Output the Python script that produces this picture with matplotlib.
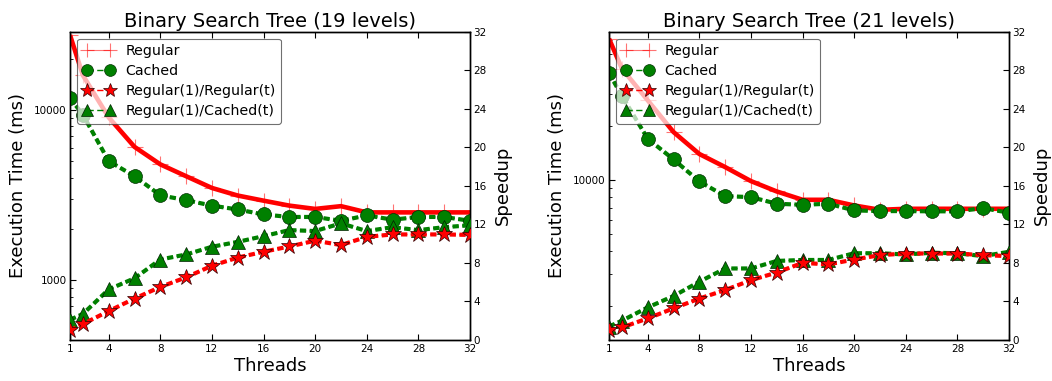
import matplotlib
matplotlib.use("Agg")
import matplotlib.pyplot as plt
from matplotlib.ticker import FixedLocator, FuncFormatter, LogLocator, NullFormatter

threads = [1, 2, 4, 6, 8, 10, 12, 14, 16, 18, 20, 22, 24, 26, 28, 30, 32]

# Binary search tree, 19 levels
regular_19 = [27600, 16000, 9050, 6070, 4790, 4080, 3480, 3140, 2930, 2740,
              2620, 2720, 2500, 2500, 2500, 2500, 2500]
cached_19 = [11780, 9380, 5010, 4080, 3150, 2950, 2740, 2600, 2430, 2350,
             2350, 2230, 2400, 2265, 2350, 2350, 2230]
speedup_regular_19 = [1.0, 1.66, 3.0, 4.3, 5.5, 6.5, 7.7, 8.55, 9.15, 9.7,
                      10.3, 9.85, 10.7, 10.95, 10.95, 10.95, 10.9]
speedup_cached_19 = [2.1, 2.7, 5.25, 6.4, 8.35, 8.87, 9.67, 10.18, 10.77, 11.4,
                     11.3, 12.1, 11.3, 11.7, 11.4, 11.7, 11.9]

# Binary search tree, 21 levels
regular_21 = [60700, 41400, 27600, 18400, 13900, 11760, 9830, 8610, 7740, 7740,
              7200, 6810, 6900, 6900, 6900, 6900, 6900]
cached_21 = [39100, 29200, 16900, 12970, 9790, 8110, 8010, 7360, 7260, 7360,
             6760, 6700, 6700, 6680, 6680, 6960, 6560]
speedup_regular_21 = [1.0, 1.3, 2.24, 3.28, 4.3, 5.18, 6.2, 7.0, 8.0, 7.84,
                      8.35, 8.8, 8.97, 8.97, 8.97, 8.8, 8.7]
speedup_cached_21 = [1.4, 2.0, 3.38, 4.56, 6.04, 7.42, 7.42, 8.2, 8.3, 8.3,
                     9.0, 9.0, 8.87, 9.05, 9.0, 8.7, 9.15]

titles = ["Binary Search Tree (19 levels)", "Binary Search Tree (21 levels)"]
time_limits = [(444, 28960), (1290, 66500)]
x_ticks = [1, 4, 8, 12, 16, 20, 24, 28, 32]
speedup_ticks = [0, 4, 8, 12, 16, 20, 24, 28, 32]

plt.rcParams["font.family"] = "DejaVu Sans"
plt.rcParams["lines.scale_dashes"] = False
plt.rcParams["xtick.direction"] = "in"
plt.rcParams["ytick.direction"] = "in"
plt.rcParams["xtick.major.size"] = 4
plt.rcParams["ytick.major.size"] = 4
plt.rcParams["ytick.minor.size"] = 2
plt.rcParams["axes.linewidth"] = 1.0

RED = "#ff0000"
GREEN = "#008000"
DASH = (4.5, 2.5)
MS = 10

fig = plt.figure(figsize=(10.52, 3.81), dpi=100)
lefts = [70 / 1052, 609 / 1052]
W = 400 / 1052
B = 41 / 381
H = 308.5 / 381

datasets = [
    (regular_19, cached_19, speedup_regular_19, speedup_cached_19),
    (regular_21, cached_21, speedup_regular_21, speedup_cached_21),
]

for left, title, ylim, (reg, cac, sp_reg, sp_cac) in zip(lefts, titles, time_limits, datasets):
    ax = fig.add_axes([left, B, W, H])
    ax2 = ax.twinx()

    # execution times (log scale)
    ax.plot(threads, reg, color=RED, lw=3.3, solid_capstyle="butt", zorder=2)
    h_reg, = ax.plot(threads, reg, color=RED, lw=0.8, marker="+", ms=12,
                     mew=0.8, alpha=0.55, label="Regular", zorder=3)
    ax.plot(threads, cac, color=GREEN, lw=3.0, ls="--", dashes=DASH, zorder=4)
    h_cac, = ax.plot(threads, cac, color=GREEN, lw=1.0, ls="--", dashes=DASH,
                     marker="o", ms=MS, mec="#003000", mew=0.5,
                     label="Cached", zorder=5)

    # speedups (linear scale)
    ax2.plot(threads, sp_cac, color=GREEN, lw=3.0, ls="--", dashes=DASH, zorder=2)
    h_spc, = ax2.plot(threads, sp_cac, color=GREEN, lw=1.0, ls="--", dashes=DASH,
                      marker="^", ms=MS, mec="#002000", mew=0.5,
                      label="Regular(1)/Cached(t)", zorder=3)
    ax2.plot(threads, sp_reg, color=RED, lw=3.0, ls="--", dashes=DASH, zorder=4)
    h_spr, = ax2.plot(threads, sp_reg, color=RED, lw=1.0, ls="--", dashes=DASH,
                      marker="*", ms=MS + 2, mec="#300000", mew=0.5,
                      label="Regular(1)/Regular(t)", zorder=5)

    ax.set_yscale("log")
    ax.set_ylim(*ylim)
    ax.set_xlim(1, 32)
    ax.xaxis.set_major_locator(FixedLocator(x_ticks))
    ax.yaxis.set_major_locator(LogLocator(base=10))
    ax.yaxis.set_minor_locator(LogLocator(base=10, subs=range(2, 10)))
    ax.yaxis.set_major_formatter(FuncFormatter(lambda v, p: "%d" % v))
    ax.yaxis.set_minor_formatter(NullFormatter())
    ax.tick_params(axis="x", which="both", top=True, labelsize=7.5, pad=3)
    ax.tick_params(axis="y", which="both", left=True, right=False, labelsize=7.5, pad=2.5)

    ax2.set_ylim(0, 32)
    ax2.yaxis.set_major_locator(FixedLocator(speedup_ticks))
    ax2.tick_params(axis="y", labelsize=7.5, pad=2.5)

    ax.set_title(title, fontsize=14, pad=3)
    ax.set_xlabel("Threads", fontsize=13, labelpad=2)
    ax.set_ylabel("Execution Time (ms)", fontsize=13, labelpad=5)
    ax2.set_ylabel("Speedup", fontsize=13, labelpad=5)

    leg = ax2.legend([h_reg, h_cac, h_spr, h_spc],
                     ["Regular", "Cached", "Regular(1)/Regular(t)", "Regular(1)/Cached(t)"],
                     loc="upper left", numpoints=2, fontsize=10.2, fancybox=True,
                     framealpha=0.7, edgecolor="#333333", borderaxespad=0.5,
                     handlelength=2.2, labelspacing=0.42, markerscale=0.85)
    leg.get_frame().set_linewidth(0.8)
    leg.set_zorder(10)

fig.savefig("out.png", dpi=100, facecolor="white")
